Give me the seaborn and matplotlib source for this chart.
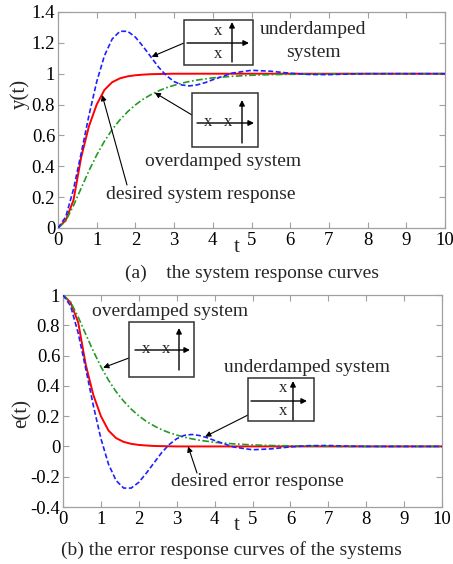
import numpy as np
import pandas as pd
import matplotlib
matplotlib.use("Agg")
import matplotlib.pyplot as plt
import seaborn as sns
from matplotlib.patches import Rectangle

# ---------------- data ----------------
t_vals = [0.0, 0.2, 0.4, 0.6, 0.8, 1.0, 1.2, 1.4, 1.6, 1.8, 2.0, 2.2, 2.4, 2.6, 2.8,
          3.0, 3.2, 3.4, 3.6, 3.8, 4.0, 4.5, 5.0, 5.5, 6.0, 6.5, 7.0, 7.5, 8.0, 10.0]

y_desired = [0.0, 0.05, 0.18, 0.46, 0.66, 0.80, 0.895, 0.945, 0.97, 0.983, 0.99, 0.994,
             0.997, 0.998, 0.999, 1.0, 1.0, 1.0, 1.0, 1.0, 1.0, 1.0, 1.0, 1.0, 1.0, 1.0,
             1.0, 1.0, 1.0, 1.0]
y_under = [0.0, 0.072, 0.251, 0.486, 0.730, 0.948, 1.117, 1.225, 1.275, 1.275, 1.237,
           1.176, 1.109, 1.042, 0.988, 0.949, 0.927, 0.921, 0.928, 0.942, 0.961, 1.004,
           1.022, 1.016, 1.003, 0.995, 0.994, 0.998, 1.0, 1.0]
y_over = [0.0, 0.046, 0.145, 0.259, 0.371, 0.473, 0.562, 0.638, 0.701, 0.754, 0.798,
          0.835, 0.864, 0.889, 0.909, 0.925, 0.939, 0.950, 0.959, 0.966, 0.973, 0.983,
          0.990, 0.994, 0.996, 0.998, 0.999, 1.0, 1.0, 1.0]

e_desired = [1.0, 0.95, 0.82, 0.54, 0.34, 0.20, 0.105, 0.055, 0.03, 0.017, 0.01, 0.006,
             0.003, 0.002, 0.001, 0.0, 0.0, 0.0, 0.0, 0.0, 0.0, 0.0, 0.0, 0.0, 0.0, 0.0,
             0.0, 0.0, 0.0, 0.0]
e_under = [1.0, 0.928, 0.749, 0.514, 0.270, 0.052, -0.117, -0.225, -0.275, -0.275, -0.237,
           -0.176, -0.109, -0.042, 0.012, 0.051, 0.073, 0.079, 0.072, 0.058, 0.039, -0.004,
           -0.022, -0.016, -0.003, 0.005, 0.006, 0.002, 0.0, 0.0]
e_over = [1.0, 0.954, 0.855, 0.741, 0.629, 0.527, 0.438, 0.362, 0.299, 0.246, 0.202,
          0.165, 0.136, 0.111, 0.091, 0.075, 0.061, 0.050, 0.041, 0.034, 0.027, 0.017,
          0.010, 0.006, 0.004, 0.002, 0.001, 0.0, 0.0, 0.0]

x_ticks = [0, 1, 2, 3, 4, 5, 6, 7, 8, 9, 10]
y_ticks_top = [0, 0.2, 0.4, 0.6, 0.8, 1.0, 1.2, 1.4]
y_labels_top = ["0", "0.2", "0.4", "0.6", "0.8", "1", "1.2", "1.4"]
y_ticks_bot = [-0.4, -0.2, 0, 0.2, 0.4, 0.6, 0.8, 1.0]
y_labels_bot = ["-0.4", "-0.2", "0", "0.2", "0.4", "0.6", "0.8", "1"]

# ---------------- style ----------------
sns.set_theme(style="ticks")
plt.rcParams["font.family"] = ["Liberation Serif", "DejaVu Serif"]
plt.rcParams["font.size"] = 14

W, H = 453, 564
fig = plt.figure(figsize=(W / 100, H / 100), dpi=100)
fig.patch.set_facecolor("white")


def fp(x, y):
    return (x / W, 1 - y / H)


ax1 = fig.add_axes([58 / W, 1 - 228 / H, (445 - 58) / W, (228 - 12) / H])
ax2 = fig.add_axes([63 / W, 1 - 507 / H, (442 - 63) / W, (507 - 295) / H])

RED = "#ff0000"
BLUE = "#2020ff"
GREEN = "#239a23"

df_top = pd.DataFrame({"t": t_vals, "desired": y_desired, "under": y_under, "over": y_over})
df_bot = pd.DataFrame({"t": t_vals, "desired": e_desired, "under": e_under, "over": e_over})

for ax, df in ((ax1, df_top), (ax2, df_bot)):
    sns.lineplot(data=df, x="t", y="desired", ax=ax, color=RED, lw=1.4, zorder=2)
    sns.lineplot(data=df, x="t", y="over", ax=ax, color=GREEN, lw=1.2,
                 linestyle=(0, (4, 1.5, 1, 1.5)), zorder=3)
    sns.lineplot(data=df, x="t", y="under", ax=ax, color=BLUE, lw=1.2,
                 linestyle=(0, (3, 1.5)), zorder=4)
    ax.set_xlim(0, 10)
    ax.set_xticks(x_ticks)
    ax.set_xticklabels([str(v) for v in x_ticks])
    ax.set_xlabel("")
    ax.set_ylabel("")
    for s in ax.spines.values():
        s.set_color("#a0a0a0")
        s.set_linewidth(0.9)
        s.set_visible(True)
    ax.tick_params(direction="in", length=4, width=0.8, color="#a0a0a0",
                   labelcolor="black", labelsize=13.5, top=True, right=True)
    ax.tick_params(axis="x", pad=3)
    ax.tick_params(axis="y", pad=2)

ax1.set_ylim(0, 1.4)
ax1.set_yticks(y_ticks_top)
ax1.set_yticklabels(y_labels_top)
ax2.set_ylim(-0.4, 1.0)
ax2.set_yticks(y_ticks_bot)
ax2.set_yticklabels(y_labels_bot)

# axis labels
fig.text(*fp(237, 247), "t", ha="center", va="center", fontsize=15)
fig.text(*fp(237, 525), "t", ha="center", va="center", fontsize=15)
fig.text(*fp(20, 94), "y(t)", ha="center", va="center", rotation=90, fontsize=15)
fig.text(*fp(22, 413), "e(t)", ha="center", va="center", rotation=90, fontsize=15)

# captions
fig.text(*fp(252, 273), "(a)    the system response curves", ha="center", va="center", fontsize=14)
fig.text(*fp(231, 550), "(b) the error response curves of the systems", ha="center",
         va="center", fontsize=14)


# pole diagram boxes
def arrow_px(x0, y0, x1, y1):
    fig.add_artist(matplotlib.patches.FancyArrowPatch(
        fp(x0, y0), fp(x1, y1), transform=fig.transFigure, arrowstyle="-|>",
        mutation_scale=8, lw=1.0, color="black", shrinkA=0, shrinkB=0, zorder=11))


def pole_box(x0, y0, x1, y1, hy, hx0, hx1, vx, vy0, vy1, marks):
    fig.add_artist(Rectangle(fp(x0, y1), (x1 - x0) / W, (y1 - y0) / H,
                             transform=fig.transFigure, facecolor="white",
                             edgecolor="#333333", lw=1.1, zorder=10))
    arrow_px(hx0, hy, hx1, hy)
    arrow_px(vx, vy0, vx, vy1)
    for mx, my in marks:
        fig.text(*fp(mx, my), "x", ha="center", va="center", fontsize=12, zorder=12)


pole_box(184, 20, 253, 65, 43, 187, 249, 232, 62, 22, [(218, 31), (218, 54)])
pole_box(192, 93, 258, 147, 123, 197, 254, 242, 143, 100, [(208, 122), (228, 122)])
pole_box(129, 322, 194, 377, 350, 135, 190, 179, 370, 328, [(146, 349), (166, 349)])
pole_box(248, 378, 314, 421, 401, 251, 307, 293, 420, 381, [(283, 388), (283, 411)])


# pointer arrows from labels/boxes to curves
def pointer(ax, xy, px, py):
    ax.annotate("", xy=xy, xycoords="data", xytext=fp(px, py),
                textcoords="figure fraction",
                arrowprops=dict(arrowstyle="-|>", color="black", lw=0.8,
                                mutation_scale=8, shrinkA=0, shrinkB=0),
                zorder=9, annotation_clip=False)


pointer(ax1, (2.42, 1.11), 184, 43)
pointer(ax1, (2.5, 0.877), 192, 115)
pointer(ax1, (1.14, 0.862), 127, 185)
pointer(ax2, (1.06, 0.52), 129, 358)
pointer(ax2, (3.75, 0.065), 248, 415)
pointer(ax2, (3.3, 0.0), 197, 473)

# annotation texts
fig.text(*fp(313, 34), "underdamped", ha="center", va="baseline", fontsize=14)
fig.text(*fp(313, 57), "system", ha="center", va="baseline", fontsize=14)
fig.text(*fp(223, 166), "overdamped system", ha="center", va="baseline", fontsize=14)
fig.text(*fp(201, 199), "desired system response", ha="center", va="baseline", fontsize=14)
fig.text(*fp(170, 316), "overdamped system", ha="center", va="baseline", fontsize=14)
fig.text(*fp(307, 372), "underdamped system", ha="center", va="baseline", fontsize=14)
fig.text(*fp(257, 486), "desired error response", ha="center", va="baseline", fontsize=14)

fig.savefig("out.png", dpi=100)
